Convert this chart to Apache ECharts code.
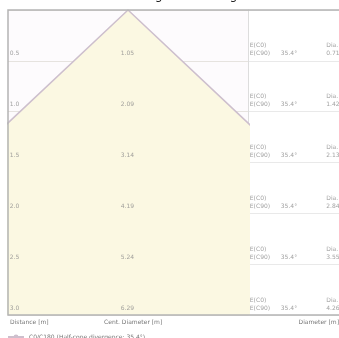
<!DOCTYPE html>
<html><head><meta charset="utf-8">
<script src="https://cdn.jsdelivr.net/npm/echarts@6/dist/echarts.min.js"></script>
<style>html,body{margin:0;padding:0;background:#fff}#c{width:339px;height:338px}</style>
</head><body><div id="c"></div>
<script>
// ---- data ----
const distances = [0.5, 1.0, 1.5, 2.0, 2.5, 3.0];
const distanceLabels = ['0.5', '1.0', '1.5', '2.0', '2.5', '3.0'];
const centerLabels = ['1.05', '2.09', '3.14', '4.19', '5.24', '6.29'];
const tableCol1 = ['E(C0)\nE(C90)', 'E(C0)\nE(C90)', 'E(C0)\nE(C90)', 'E(C0)\nE(C90)', 'E(C0)\nE(C90)', 'E(C0)\nE(C90)'];
const tableCol2 = ['35.4°', '35.4°', '35.4°', '35.4°', '35.4°', '35.4°'];
const tableCol3 = ['Dia.\n0.71', 'Dia.\n1.42', 'Dia.\n2.13', 'Dia.\n2.84', 'Dia.\n3.55', 'Dia.\n4.26'];
const coneX = [-2.7, 0, 2.7];
const coneD = [3, 0, 3];
const coneName = 'C0/C180 (Half-cone divergence: 35.4°)';

const chart = echarts.init(document.getElementById('c'), null, {renderer: 'canvas'});
const txt = {color: '#8a8a8a', fontSize: 6, fontFamily: 'DejaVu Sans', lineHeight: 8};
function labelSeries(name, xi, yi, xv, labels, align) {
  return {
    type: 'scatter', name: name, xAxisIndex: xi, yAxisIndex: yi, symbolSize: 0, silent: true,
    data: distances.map((d, i) => ({value: [xv, d], label: {formatter: labels[i]}})),
    label: Object.assign({show: true, position: [0, 0], align: align, verticalAlign: 'bottom', offset: [0, -3]}, txt)
  };
}
chart.setOption({
  animation: false,
  title: {text: 'Luminaire: Light cone diagram', left: 'center', top: -15, textStyle: {fontSize: 12, color: '#222', fontWeight: 'normal', fontFamily: 'DejaVu Sans'}},
  legend: {data: [coneName], left: 2, top: 329, itemWidth: 16, itemHeight: 6, itemGap: 4,
    textStyle: {fontSize: 6, color: '#777', fontFamily: 'DejaVu Sans'}},
  grid: [
    {left: 8, top: 10, width: 240, height: 305, show: true, backgroundColor: '#fdfbfd', borderWidth: 0},
    {left: 248, top: 10, width: 100, height: 305, show: true, backgroundColor: '#ffffff', borderWidth: 0}
  ],
  xAxis: [
    {gridIndex: 0, type: 'value', min: -1, max: 1, show: false},
    {gridIndex: 1, type: 'value', min: 0, max: 1, show: false}
  ],
  yAxis: [
    {gridIndex: 0, type: 'value', min: 0, max: 3, interval: 0.5, inverse: true,
      axisLine: {show: false}, axisTick: {show: false}, axisLabel: {show: false},
      splitLine: {show: true, lineStyle: {color: '#e6e3df', width: 1}}},
    {gridIndex: 1, type: 'value', min: 0, max: 3, interval: 0.5, inverse: true,
      axisLine: {show: true, lineStyle: {color: '#dddddd', width: 1}}, axisTick: {show: false}, axisLabel: {show: false},
      splitLine: {show: true, lineStyle: {color: '#e9e9e9', width: 1}}}
  ],
  series: [
    {type: 'line', name: coneName, xAxisIndex: 0, yAxisIndex: 0, symbol: 'none', clip: true,
      data: coneX.map((x, i) => [x, coneD[i]]),
      lineStyle: {color: '#cdbfcd', width: 1.5},
      itemStyle: {color: '#cdbfcd'},
      areaStyle: {color: '#fbf8e2', opacity: 1, origin: 'end'}, z: 1},
    labelSeries('dist', 0, 0, -0.985, distanceLabels, 'left'),
    labelSeries('center', 0, 0, -0.005, centerLabels, 'center'),
    labelSeries('c1', 1, 1, 0.02, tableCol1, 'left'),
    labelSeries('c2', 1, 1, 0.45, tableCol2, 'center'),
    labelSeries('c3', 1, 1, 0.86, tableCol3, 'left')
  ],
  graphic: [
    {type: 'rect', shape: {x: 8, y: 10, width: 345, height: 305}, style: {fill: 'none', stroke: '#b4b4b4', lineWidth: 1.5}, z: 100, silent: true},
    {type: 'text', left: 10, top: 319, style: {text: 'Distance [m]', fill: '#777', fontSize: 6, fontFamily: 'DejaVu Sans'}},
    {type: 'text', left: 104, top: 319, style: {text: 'Cent. Diameter [m]', fill: '#777', fontSize: 6, fontFamily: 'DejaVu Sans'}},
    {type: 'text', right: 0, top: 319, style: {text: 'Diameter [m]', fill: '#777', fontSize: 6, fontFamily: 'DejaVu Sans'}}
  ]
});
</script></body></html>
